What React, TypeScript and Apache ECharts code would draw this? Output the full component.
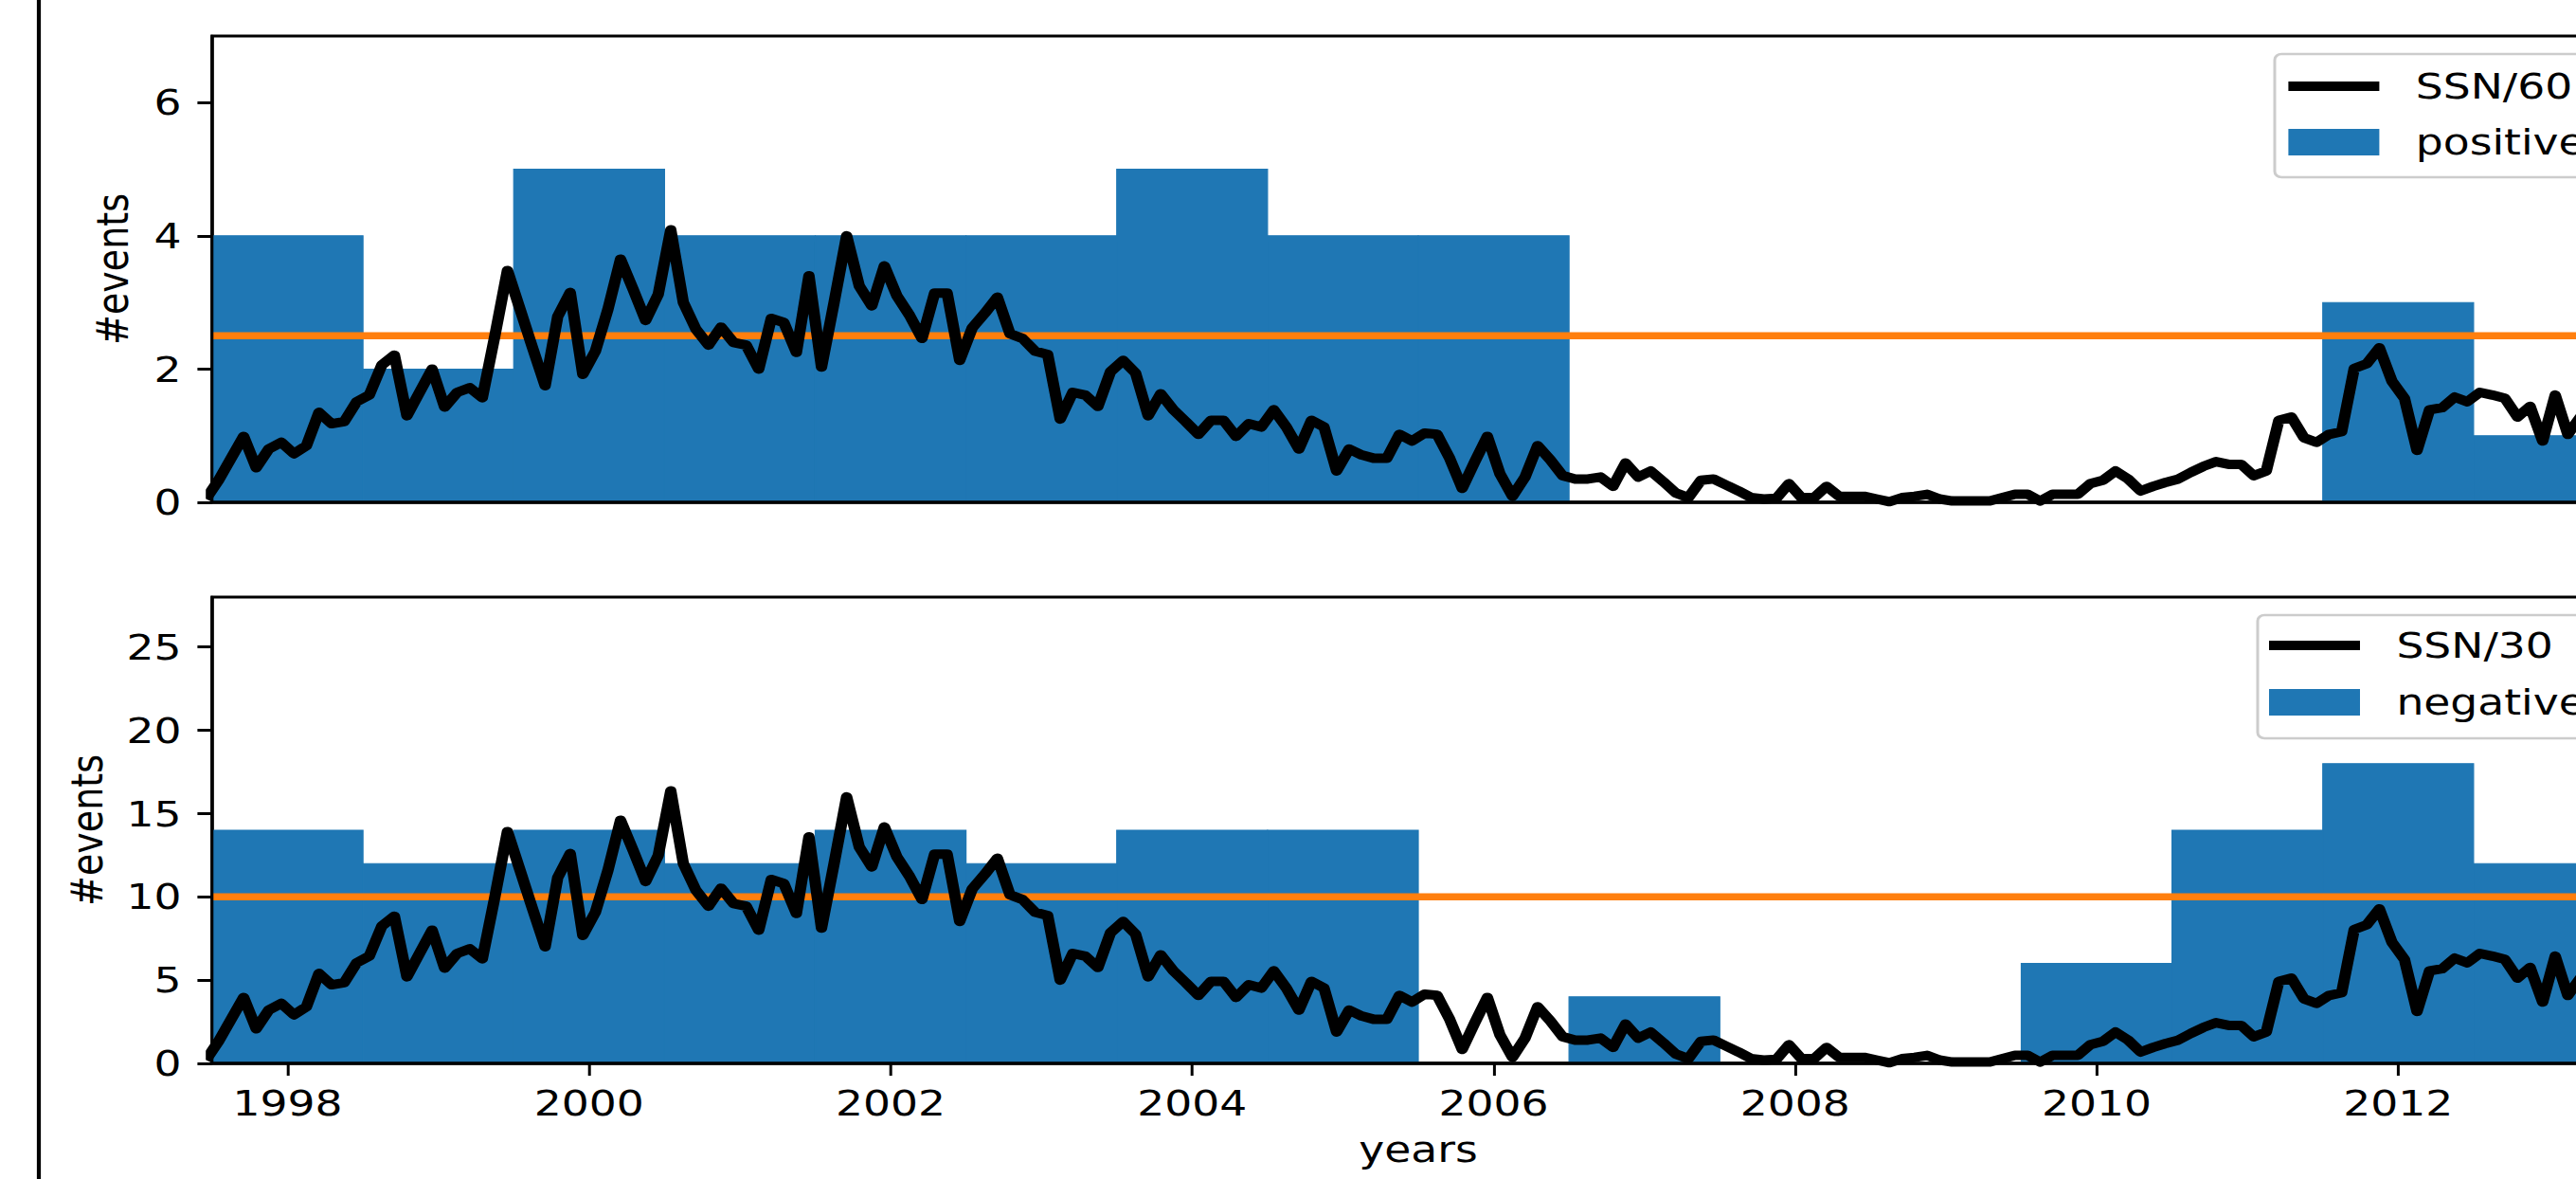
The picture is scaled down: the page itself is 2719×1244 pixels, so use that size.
import React, { useEffect, useRef } from "react";
import * as echarts from "echarts";

// ---------------- data ----------------
const binCenters = [1998, 1999, 2000, 2001, 2002, 2003, 2004, 2005, 2006, 2007, 2008, 2009, 2010, 2011, 2012, 2013];
const positiveCounts = [4, 2, 5, 4, 4, 4, 5, 4, 4, 0, 0, 0, 0, 0, 3, 1];
const negativeCounts = [14, 12, 14, 12, 14, 12, 14, 14, 0, 4, 0, 0, 6, 14, 18, 12];

// monthly sunspot number / 60, starting June 1997 (as read on the upper panel)
const ssnFirstMonth = { year: 1997, month: 6 };
const ssnOver60 = [
  0.05, 0.33, 0.66, 0.99, 0.52, 0.8, 0.9, 0.73, 0.85, 1.35, 1.18, 1.21, 1.51,
  1.61, 2.06, 2.21, 1.3, 1.65, 2.0, 1.43, 1.65, 1.72, 1.57, 2.5, 3.48, 2.9,
  2.32, 1.75, 2.79, 3.15, 1.92, 2.27, 2.9, 3.65, 3.2, 2.73, 3.12, 4.09, 3.0,
  2.6, 2.36, 2.63, 2.4, 2.36, 2.0, 2.76, 2.7, 2.25, 3.4, 2.03, 3.0, 4.0,
  3.25, 2.95, 3.55, 3.1, 2.81, 2.46, 3.14, 3.14, 2.13, 2.62, 2.84, 3.08,
  2.53, 2.46, 2.27, 2.22, 1.25, 1.65, 1.61, 1.44, 1.96, 2.13, 1.94, 1.3,
  1.63, 1.39, 1.21, 1.02, 1.23, 1.23, 0.99, 1.18, 1.13, 1.39, 1.13, 0.8,
  1.23, 1.13, 0.47, 0.8, 0.71, 0.66, 0.66, 1.02, 0.92, 1.04, 1.02, 0.66,
  0.21, 0.61, 0.99, 0.43, 0.09, 0.38, 0.85, 0.64, 0.4, 0.35, 0.35, 0.38,
  0.24, 0.59, 0.38, 0.47, 0.31, 0.14, 0.07, 0.33, 0.35, 0.26, 0.17, 0.07,
  0.05, 0.06, 0.28, 0.07, 0.07, 0.24, 0.09, 0.09, 0.09, 0.05, 0.01, 0.07,
  0.09, 0.12, 0.05, 0.02, 0.02, 0.02, 0.02, 0.07, 0.12, 0.12, 0.02, 0.12,
  0.12, 0.12, 0.28, 0.33, 0.47, 0.35, 0.17, 0.24, 0.3, 0.35, 0.45, 0.54,
  0.61, 0.57, 0.57, 0.4, 0.47, 1.23, 1.28, 0.97, 0.9, 1.02, 1.06, 2.01,
  2.08, 2.32, 1.82, 1.56, 0.78, 1.39, 1.42, 1.58, 1.51, 1.65, 1.61, 1.56,
  1.28, 1.44, 0.92, 1.61, 1.02, 1.28, 1.5,
];
// the lower panel draws the same curve 4x larger on its own axis
const lowerPanelFactor = 4;

const upperThreshold = 2.5;
const lowerThreshold = 10;
const upperYTicks = [0, 2, 4, 6];
const lowerYTicks = [0, 5, 10, 15, 20, 25];
const yearTicks = [1998, 2000, 2002, 2004, 2006, 2008, 2010, 2012];
const xRange = [1997.5, 2013.5];
const upperYMax = 7;
const lowerYMax = 28;

// ---------------- layout ----------------
const SX = 1.2; // the reference is stretched horizontally
const FONT = "DejaVu Sans";
const FS = 38;
const BLUE = "#1f77b4";
const ORANGE = "#ff7f0e";
const GRID_LEFT = 224 / SX;
const GRID_WIDTH = 2546 / SX;

const monthX = (i: number) =>
  ssnFirstMonth.year + (ssnFirstMonth.month - 1 + i + 0.5) / 12;

const binData = (counts: number[]) =>
  binCenters.map((c, i) => [c - 0.5, c + 0.5, counts[i]]);

const renderBin = (params: any, api: any) => {
  const a = api.coord([api.value(0), 0]);
  const b = api.coord([api.value(1), api.value(2)]);
  const h = a[1] - b[1];
  if (h <= 0) return null;
  return {
    type: "rect",
    shape: { x: a[0], y: b[1], width: b[0] - a[0], height: h },
    style: { fill: BLUE, stroke: BLUE, lineWidth: 1 },
  };
};

const LINE_ICON = "path://M0,0 M80,28 M0,9 L80,9 L80,19 L0,19 Z";

function makeLegend(lineName: string, barName: string, left: number, top: number, padding: number[], gap: number) {
  return {
    orient: "vertical",
    left,
    top,
    padding,
    itemGap: gap,
    itemWidth: 80,
    itemHeight: 28,
    selectedMode: false,
    backgroundColor: "rgba(255,255,255,0.8)",
    borderColor: "#cccccc",
    borderWidth: 2.5,
    borderRadius: 6,
    z: 20,
    textStyle: {
      fontFamily: FONT,
      fontSize: FS,
      color: "#000",
      lineHeight: FS,
      padding: [0, 0, 0, 27],
    },
    data: [
      { name: lineName, icon: LINE_ICON, itemStyle: { color: "#000" } },
      { name: barName, icon: "rect", itemStyle: { color: BLUE } },
    ],
  };
}

const axisLabelStyle = { fontFamily: FONT, fontSize: FS, color: "#000" };

export default function App() {
  const ref = useRef<HTMLDivElement>(null);

  useEffect(() => {
    if (!ref.current) return;
    const chart = echarts.init(ref.current, undefined, { renderer: "svg" });

    const xAxisBase = {
      type: "value",
      min: xRange[0],
      max: xRange[1],
      splitLine: { show: false },
      axisLine: { show: true, onZero: false, lineStyle: { color: "#000", width: 3.5 } },
      z: 10,
    };

    const option: any = {
      animation: false,
      backgroundColor: "#fff",
      textStyle: { fontFamily: FONT },
      grid: [
        { left: GRID_LEFT, top: 38, width: GRID_WIDTH, height: 492, show: true, borderColor: "#000", borderWidth: 3, backgroundColor: "transparent" },
        { left: GRID_LEFT, top: 630, width: GRID_WIDTH, height: 492, show: true, borderColor: "#000", borderWidth: 3, backgroundColor: "transparent" },
      ],
      xAxis: [
        {
          ...xAxisBase,
          gridIndex: 0,
          axisTick: { show: false },
          axisLabel: { show: false },
        },
        {
          ...xAxisBase,
          gridIndex: 1,
          name: "years",
          nameLocation: "middle",
          nameGap: 72,
          nameTextStyle: axisLabelStyle,
          axisTick: { show: true, length: 13, customValues: yearTicks, lineStyle: { color: "#000", width: 2.5 } },
          axisLabel: { ...axisLabelStyle, margin: 23, customValues: yearTicks, formatter: (v: number) => String(v) },
        },
      ],
      yAxis: [
        {
          type: "value",
          gridIndex: 0,
          min: 0,
          max: upperYMax,
          splitLine: { show: false },
          name: "#events",
          nameLocation: "middle",
          nameGap: 68,
          nameTextStyle: axisLabelStyle,
          axisLine: { show: true, lineStyle: { color: "#000", width: 2.5 } },
          axisTick: { show: true, length: 13, customValues: upperYTicks, lineStyle: { color: "#000", width: 3 } },
          axisLabel: { ...axisLabelStyle, margin: 27, customValues: upperYTicks },
          z: 10,
        },
        {
          type: "value",
          gridIndex: 1,
          min: 0,
          max: lowerYMax,
          splitLine: { show: false },
          name: "#events",
          nameLocation: "middle",
          nameGap: 91,
          nameTextStyle: axisLabelStyle,
          axisLine: { show: true, lineStyle: { color: "#000", width: 2.5 } },
          axisTick: { show: true, length: 13, customValues: lowerYTicks, lineStyle: { color: "#000", width: 3 } },
          axisLabel: { ...axisLabelStyle, margin: 27, customValues: lowerYTicks },
          z: 10,
        },
      ],
      legend: [
        makeLegend("SSN/60", "positive", 2401 / SX, 57, [15, 10, 18, 12], 21),
        makeLegend("SSN/30", "negative", 2383 / SX, 649, [13, 10, 19, 10], 22),
      ],
      graphic: [
        {
          type: "line",
          shape: { x1: 41 / SX, y1: 0, x2: 41 / SX, y2: 1244 },
          style: { stroke: "#000", lineWidth: 3.5 },
          z: 30,
        },
      ],
      series: [
        {
          name: "positive",
          type: "custom",
          xAxisIndex: 0,
          yAxisIndex: 0,
          renderItem: renderBin,
          encode: { x: [0, 1], y: 2 },
          itemStyle: { color: BLUE },
          data: binData(positiveCounts),
          clip: true,
          z: 1,
        },
        {
          name: "upper threshold",
          type: "line",
          xAxisIndex: 0,
          yAxisIndex: 0,
          symbol: "none",
          lineStyle: { color: ORANGE, width: 7.5 },
          data: [[xRange[0], upperThreshold], [xRange[1], upperThreshold]],
          z: 2,
        },
        {
          name: "SSN/60",
          type: "line",
          xAxisIndex: 0,
          yAxisIndex: 0,
          symbol: "none",
          showSymbol: false,
          itemStyle: { color: "#000" },
          lineStyle: { color: "#000", width: 10, join: "round" },
          data: ssnOver60.map((v, i) => [monthX(i), v]),
          clip: true,
          z: 3,
        },
        {
          name: "negative",
          type: "custom",
          xAxisIndex: 1,
          yAxisIndex: 1,
          renderItem: renderBin,
          encode: { x: [0, 1], y: 2 },
          itemStyle: { color: BLUE },
          data: binData(negativeCounts),
          clip: true,
          z: 1,
        },
        {
          name: "lower threshold",
          type: "line",
          xAxisIndex: 1,
          yAxisIndex: 1,
          symbol: "none",
          lineStyle: { color: ORANGE, width: 7.5 },
          data: [[xRange[0], lowerThreshold], [xRange[1], lowerThreshold]],
          z: 2,
        },
        {
          name: "SSN/30",
          type: "line",
          xAxisIndex: 1,
          yAxisIndex: 1,
          symbol: "none",
          showSymbol: false,
          itemStyle: { color: "#000" },
          lineStyle: { color: "#000", width: 10, join: "round" },
          data: ssnOver60.map((v, i) => [monthX(i), v * lowerPanelFactor]),
          clip: true,
          z: 3,
        },
      ],
    };

    chart.setOption(option);
    return () => chart.dispose();
  }, []);

  return (
    <div
      style={{
        position: "fixed",
        left: 0,
        top: 0,
        width: "100vw",
        height: "100vh",
        overflow: "hidden",
        background: "#fff",
      }}
    >
      <div
        ref={ref}
        style={{
          width: Math.round(2800 / SX),
          height: 1244,
          transform: `scaleX(${SX})`,
          transformOrigin: "0 0",
        }}
      />
    </div>
  );
}
